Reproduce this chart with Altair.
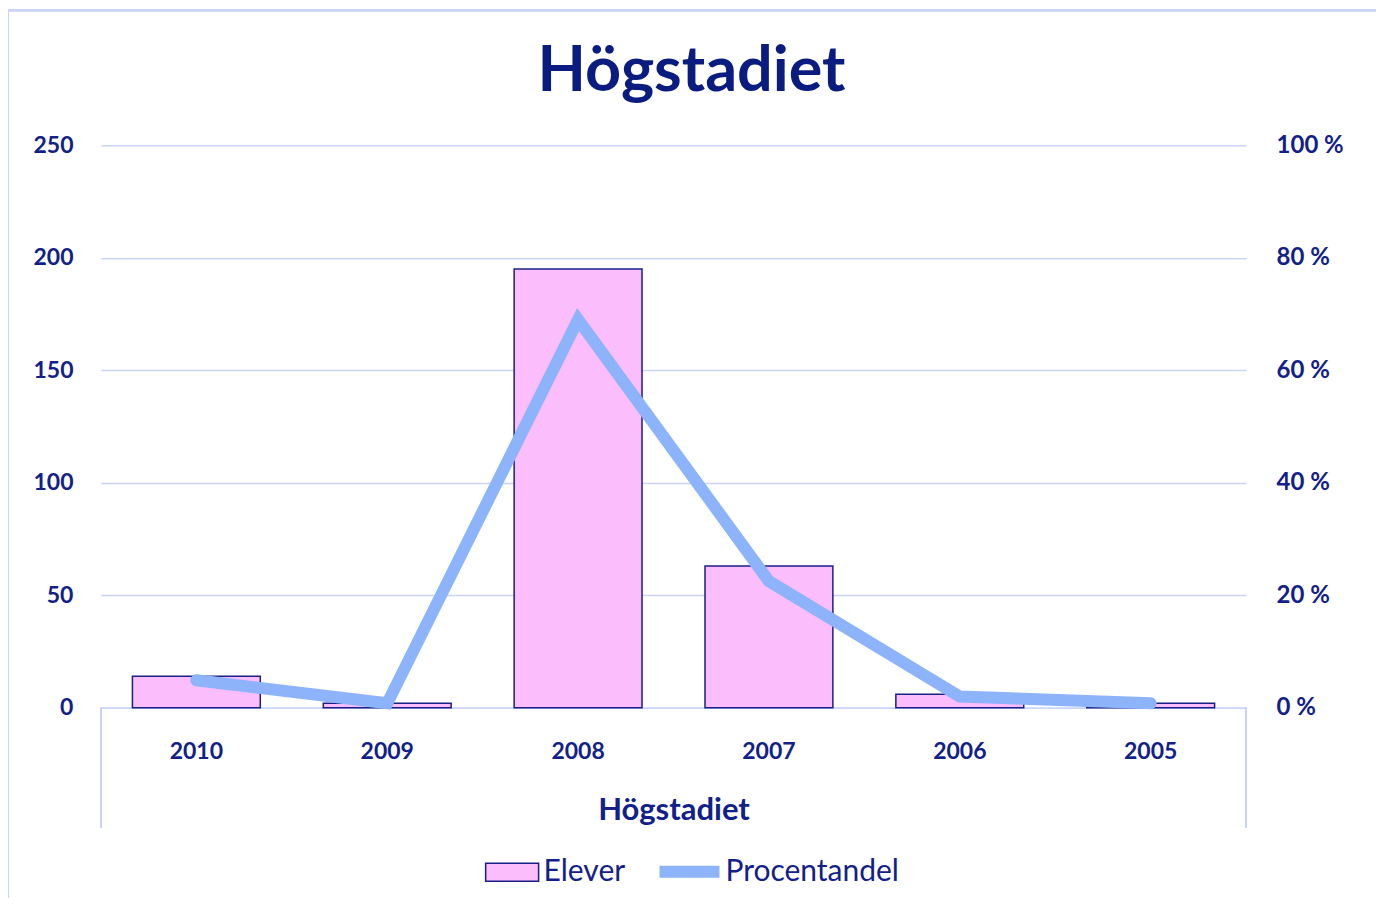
import altair as alt
import pandas as pd

years = ["2010", "2009", "2008", "2007", "2006", "2005"]
elever = [14, 2, 195, 63, 6, 2]
procent = [0.049, 0.008, 0.69, 0.225, 0.02, 0.008]
left_ticks = [0, 50, 100, 150, 200, 250]
right_ticks = [0, 0.2, 0.4, 0.6, 0.8, 1.0]
chart_title = "Högstadiet"

df = pd.DataFrame({"year": years, "Elever": elever, "Procentandel": procent,
                   "s1": "Elever", "s2": "Procentandel"})

NAVY = "#12208A"
PINK = "#FBBDFB"
BLUE = "#8DB3FB"
GRID = "#C9D4F7"
FONT = "Lato"
W, H = 1146, 563

xenc = alt.X("year:N", sort=years, title="Högstadiet",
             scale=alt.Scale(paddingInner=0.33, paddingOuter=0.165),
             axis=alt.Axis(labelAngle=0, ticks=False, domainColor=GRID, domainWidth=1.5,
                           labelFont=FONT, labelFontSize=23, labelFontWeight="bold",
                           labelColor=NAVY, labelPadding=33,
                           titleFont=FONT, titleFontSize=31, titleFontWeight="bold",
                           titleColor=NAVY, titlePadding=32))

bars = alt.Chart(df).mark_bar(stroke="#1A1F86", strokeWidth=1.5).encode(
    x=xenc,
    y=alt.Y("Elever:Q", title=None,
            scale=alt.Scale(domain=[0, 250], nice=False),
            axis=alt.Axis(values=left_ticks, orient="left", ticks=False, domain=False,
                          grid=True, gridColor=GRID, gridWidth=1.5,
                          labelFont=FONT, labelFontSize=23, labelFontWeight="bold",
                          labelColor=NAVY, labelPadding=28)),
    fill=alt.Fill("s1:N", scale=alt.Scale(domain=["Elever"], range=[PINK]),
                  legend=alt.Legend(title=None, orient="none", legendX=384, legendY=700,
                                    symbolType="M-1,-0.34L1,-0.34L1,0.34L-1,0.34Z",
                                    symbolSize=2809, symbolStrokeColor="#1A1F86",
                                    symbolStrokeWidth=1.5, labelFont=FONT,
                                    labelFontSize=30, labelColor=NAVY, labelOffset=4,
                                    labelLimit=400)),
)

line = alt.Chart(df).mark_line(strokeWidth=12, strokeCap="round", strokeJoin="miter").encode(
    x=alt.X("year:N", sort=years),
    y=alt.Y("Procentandel:Q", title=None,
            scale=alt.Scale(domain=[0, 1], nice=False),
            axis=alt.Axis(values=right_ticks, orient="right", ticks=False, domain=False,
                          grid=False, labelExpr="round(datum.value*100) + ' %'",
                          labelFont=FONT, labelFontSize=24, labelFontWeight="bold",
                          labelColor=NAVY, labelPadding=30)),
    stroke=alt.Stroke("s2:N", scale=alt.Scale(domain=["Procentandel"], range=[BLUE]),
                      legend=alt.Legend(title=None, orient="none", legendX=553, legendY=691,
                                        symbolType="stroke", symbolSize=3600,
                                        symbolStrokeWidth=12, labelFont=FONT,
                                        labelFontSize=30, labelColor=NAVY, labelOffset=0,
                                        labelLimit=400)),
)

edge_l = alt.Chart(df).mark_rule(color=GRID, strokeWidth=1.5).encode(
    x=alt.value(0), y=alt.value(H), y2=alt.value(H + 120))
edge_r = alt.Chart(df).mark_rule(color=GRID, strokeWidth=1.5).encode(
    x=alt.value(W), y=alt.value(H), y2=alt.value(H + 120))
border = alt.Chart(df).mark_rect(fill="transparent", stroke=GRID, strokeWidth=2).encode(
    x=alt.value(-93), x2=alt.value(1277), y=alt.value(-135), y2=alt.value(900))
title = alt.Chart(pd.DataFrame({"t": [chart_title]})).mark_text(
    font=FONT, fontSize=63, fontWeight="bold", color="#0B1C80",
    align="center", baseline="alphabetic").encode(
    text="t:N", x=alt.value(591), y=alt.value(-54))

chart = alt.layer(border, title, bars, line, edge_l, edge_r).resolve_scale(
    y="independent", fill="independent", stroke="independent"
).properties(
    width=W, height=H,
    autosize=alt.AutoSizeParams(type="none"),
    padding={"left": 93, "top": 137, "right": 130, "bottom": 190},
).configure_view(stroke=None)

chart.save("out.html", embed_options={"renderer": "svg", "actions": False})
